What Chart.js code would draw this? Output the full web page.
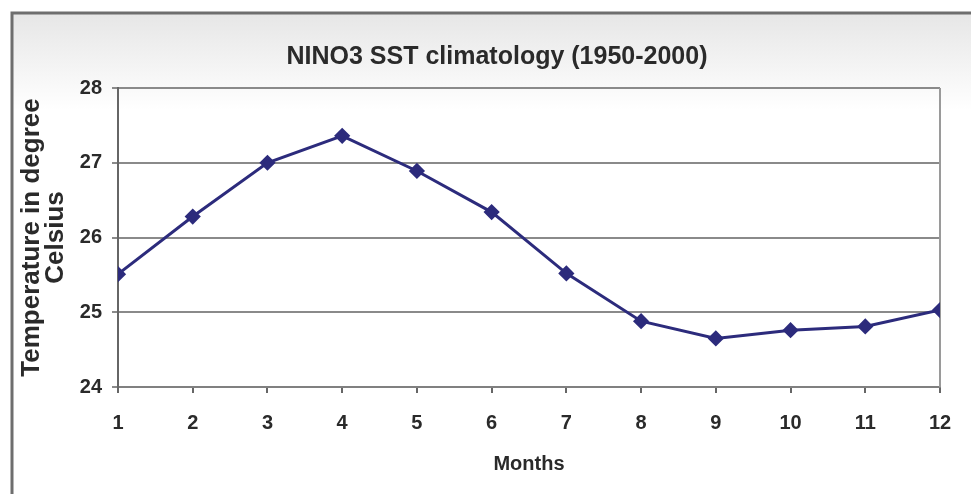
<!DOCTYPE html>
<html>
<head>
<meta charset="utf-8">
<title>NINO3 SST climatology</title>
<script src="https://cdn.jsdelivr.net/npm/chart.js@4"></script>
<style>
    html, body { margin: 0; padding: 0; background: #ffffff; }
    #wrap { width: 971px; height: 494px; }
</style>
</head>
<body>
<div id="wrap"><canvas id="ninoChart" width="971" height="494"></canvas></div>
<script>
// values
const months = [1, 2, 3, 4, 5, 6, 7, 8, 9, 10, 11, 12];
const sstValues = [25.51, 26.28, 27.0, 27.36, 26.89, 26.34, 25.52, 24.88, 24.65, 24.76, 24.81, 25.03];
const yTicks = [24, 25, 26, 27, 28];

const chartTitle = "NINO3 SST climatology (1950-2000)";
const yTitle = ["Temperature in degree", "Celsius"];
const xTitle = "Months";

const FONT = "'Liberation Sans', Arial, sans-serif";

// frame around the whole chart + right edge of the plot box
const framePlugin = {
    id: "frame",
    afterLayout(chart) {
        // centre the title a bit more to the right, like the original
        if (chart.titleBlock) {
            chart.titleBlock.left = 54;
            chart.titleBlock.right = 940;
        }
    },
    beforeDraw(chart) {
        const ctx = chart.ctx;
        ctx.save();
        const grad = ctx.createLinearGradient(0, 13, 0, 110);
        grad.addColorStop(0, "#e6e6e6");
        grad.addColorStop(1, "#ffffff");
        ctx.fillStyle = grad;
        ctx.fillRect(12, 13, 980, 500);
        ctx.strokeStyle = "#6e6e6e";
        ctx.lineWidth = 3;
        ctx.strokeRect(12, 13, 990, 520);
        ctx.restore();
    },
    beforeDatasetsDraw(chart) {
        const a = chart.chartArea;
        const ctx = chart.ctx;
        ctx.save();
        ctx.strokeStyle = "#9a9a9a";
        ctx.lineWidth = 2;
        ctx.beginPath();
        ctx.moveTo(a.right, a.top);
        ctx.lineTo(a.right, a.bottom);
        ctx.stroke();
        ctx.restore();
    }
};

document.addEventListener("DOMContentLoaded", function () {
    const ctx = document.getElementById("ninoChart").getContext("2d");

    new Chart(ctx, {
        type: "line",
        data: {
            datasets: [{
                label: "SST",
                data: months.map((m, i) => ({ x: m, y: sstValues[i] })),
                borderColor: "#2c2b7c",
                backgroundColor: "#2c2b7c",
                borderWidth: 3,
                tension: 0,
                pointStyle: "rectRot",
                pointRadius: 6,
                pointBackgroundColor: "#2c2b7c",
                pointBorderColor: "#2c2b7c"
            }]
        },
        options: {
            responsive: false,
            animation: false,
            layout: { padding: { left: 0, right: 31, top: 0, bottom: 0 } },
            plugins: {
                legend: { display: false },
                tooltip: { enabled: false },
                title: {
                    display: true,
                    text: chartTitle,
                    color: "#2a2a2a",
                    font: { family: FONT, size: 25, weight: "bold" },
                    padding: { top: 42, bottom: 16 }
                }
            },
            scales: {
                x: {
                    type: "linear",
                    min: 1,
                    max: 12,
                    afterFit(scale) { scale.height = 107; },
                    ticks: {
                        stepSize: 1,
                        color: "#2a2a2a",
                        font: { family: FONT, size: 20, weight: "bold" },
                        padding: 18
                    },
                    grid: {
                        drawOnChartArea: false,
                        drawTicks: true,
                        tickLength: 6,
                        color: "#666666",
                        lineWidth: 2
                    },
                    border: { color: "#808080", width: 2 },
                    title: {
                        display: true,
                        text: xTitle,
                        color: "#2a2a2a",
                        font: { family: FONT, size: 20, weight: "bold" },
                        padding: { top: 14, bottom: 18 }
                    }
                },
                y: {
                    min: 24,
                    max: 28,
                    afterFit(scale) { scale.width = 118; },
                    afterBuildTicks(scale) { scale.ticks = yTicks.map(v => ({ value: v })); },
                    ticks: {
                        color: "#2a2a2a",
                        font: { family: FONT, size: 20, weight: "bold" },
                        padding: 10
                    },
                    grid: {
                        color: "#8a8a8a",
                        lineWidth: 2,
                        drawTicks: true,
                        tickLength: 6
                    },
                    border: { color: "#666666", width: 2 },
                    title: {
                        display: true,
                        text: yTitle,
                        color: "#2a2a2a",
                        font: { family: FONT, size: 26, weight: "bold", lineHeight: 0.92 },
                        padding: { top: 20, bottom: 0 }
                    }
                }
            }
        },
        plugins: [framePlugin]
    });
});
</script>
</body>
</html>
